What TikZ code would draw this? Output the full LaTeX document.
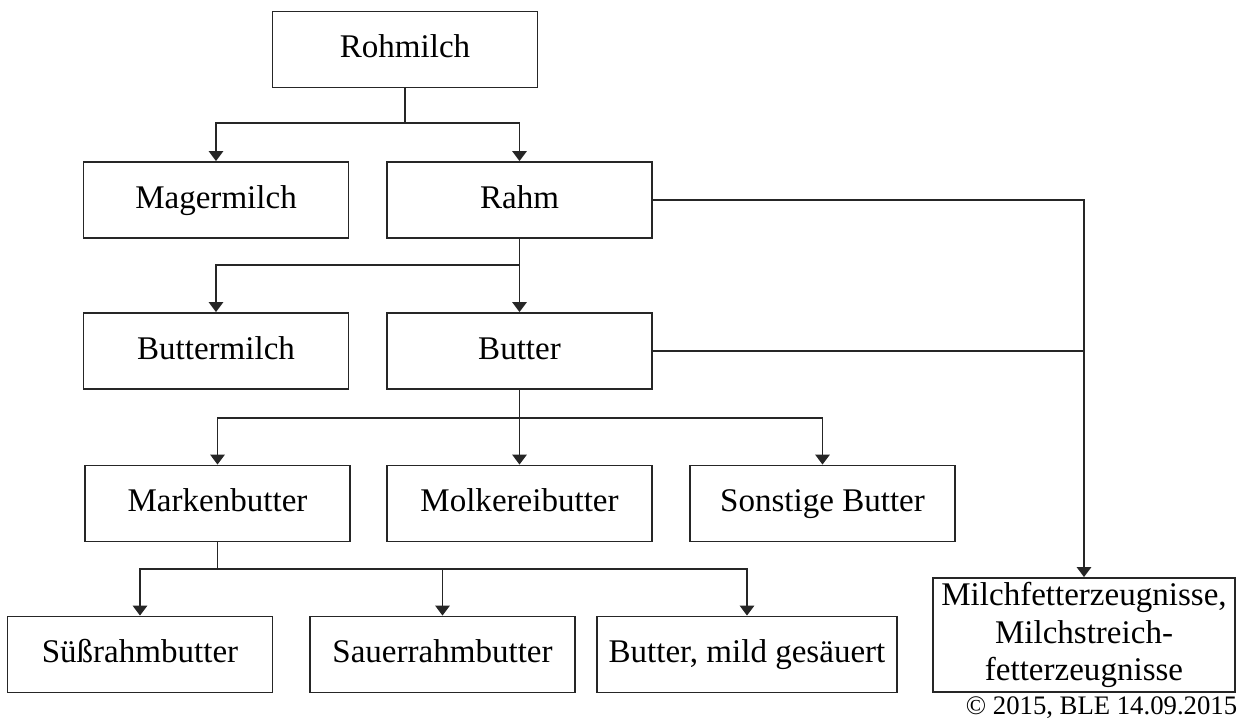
\documentclass[tikz,border=0pt]{standalone}
\usepackage{fontspec}
\setmainfont{Liberation Serif}
\usetikzlibrary{arrows.meta}
\begin{document}
\begin{tikzpicture}[x=0.025cm, y=-0.025cm, line width=1.3pt, color=black!85,
	main/.style = {draw, rectangle, inner sep=0pt, minimum width=6.62cm, minimum height=1.9cm, text height=16.5pt, text depth=5pt, font=\fontsize{23.5}{26.5}\selectfont, text=black},
	arr/.style = {-{Triangle[width=0.36cm, length=0.25cm]}}]

			\useasboundingbox (0,0) rectangle (1248,722);

			\node[main] (roh) at (405,49.5) {Rohmilch};
			\node[main] (mager) at (216,200) {Magermilch};
			\node[main] (rahm) at (519.5,200) {Rahm};
			\node[main] (bmilch) at (216,351) {Buttermilch};
			\node[main] (butter) at (519.5,351) {Butter};
			\node[main] (marken) at (217.5,503.5) {Markenbutter};
			\node[main] (molk) at (519.5,503.5) {Molkereibutter};
			\node[main] (sonst) at (822.5,503.5) {Sonstige Butter};
			\node[main] (suess) at (140,654.5) {Süßrahmbutter};
			\node[main] (sauer) at (442.5,654.5) {Sauerrahmbutter};
			\node[main, minimum width=7.5cm] (mild) at (747,654.5) {Butter, mild gesäuert};
			\node[main, text height=, text depth=, minimum width=7.55cm, minimum height=2.85cm, align=center] (fett) at (1084,635) {Milchfetterzeugnisse,\\Milchstreich-\\fetterzeugnisse};
			\node[anchor=east, inner sep=0pt, text=black, font=\fontsize{19}{21}\selectfont] (copy) at (1238,708) {© 2015, BLE 14.09.2015};

			\coordinate (j1) at (405,123);
			\coordinate (j2) at (519.5,265);
			\coordinate (j3) at (519.5,418);
			\coordinate (j4) at (217.5,569);

			\draw[arr] (roh.south) -- (j1) -| (mager.north);
			\draw[arr] (j1) -| (rahm.north);
			\draw[arr] (rahm.south) -- (j2) -| (bmilch.north);
			\draw[arr] (j2) -- (butter.north);
			\draw[arr] (butter.south) -- (j3) -| (marken.north);
			\draw[arr] (j3) -- (molk.north);
			\draw[arr] (j3) -| (sonst.north);
			\draw[arr] (marken.south) -- (j4) -| (suess.north);
			\draw[arr] (j4) -| (sauer.north);
			\draw[arr] (j4) -| (mild.north);
			\draw[arr] (rahm.east) -| (fett.north);
			\draw (butter.east) -- (butter.east -| fett.north);
		\end{tikzpicture}
\end{document}
